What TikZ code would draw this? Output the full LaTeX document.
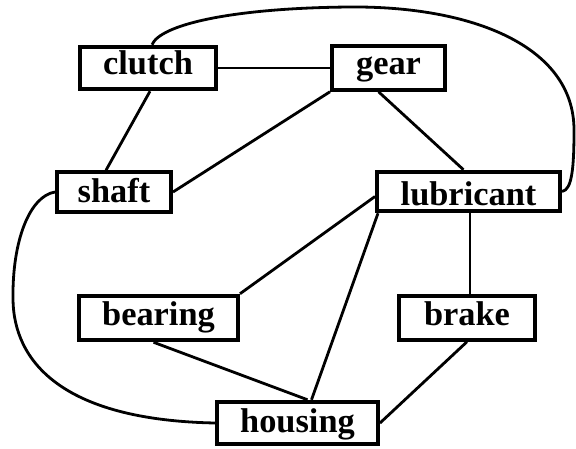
\documentclass[tikz,border=0pt]{standalone}
\usepackage{fontspec}
\setmainfont{Liberation Serif}
\begin{document}
\begin{tikzpicture}[x=1bp,y=-1bp,
  part/.style={draw,line width=4bp,inner sep=0pt,
    text height=20bp,text depth=6bp,
    font=\fontsize{34.5}{40}\selectfont\bfseries},
  link/.style={line width=2.8bp}]
\useasboundingbox (0,0) rectangle (576,449);

% parts of the mechanism
\node[part,minimum width=136bp,minimum height=42.5bp] (clutch)    at (148,68)    {clutch};
\node[part,minimum width=113bp,minimum height=43.5bp] (gear)      at (388.5,68)  {gear};
\node[part,minimum width=114bp,minimum height=39.5bp,
      text height=24bp,text depth=2bp] (shaft)     at (114,192)   {shaft};
\node[part,minimum width=183bp,minimum height=39.5bp,
      text height=30bp,text depth=2bp] (lubricant) at (468.5,191.5) {lubricant};
\node[part,minimum width=159bp,minimum height=44.5bp] (bearing)   at (158.5,318) {bearing};
\node[part,minimum width=136bp,minimum height=43.5bp] (brake)     at (467,318)   {brake};
\node[part,minimum width=161bp,minimum height=42.5bp,
      text height=22bp,text depth=4bp] (housing)   at (297.5,423) {housing};

% straight relations
\draw[link] (clutch.east) -- (gear.west);
\draw[link] ([xshift=2bp]clutch.south) -- ([xshift=-8bp]shaft.north);
\draw[link] (gear.south west) -- (shaft.east);
\draw[link] ([xshift=-10bp]gear.south) -- ([xshift=-5bp]lubricant.north);
\draw[link] ([yshift=-5bp]lubricant.west) -- (bearing.north east);
\draw[link] ([xshift=3bp]lubricant.south west) -- ([xshift=14bp]housing.north);
\draw[link] ([xshift=1.5bp]lubricant.south) -- ([xshift=1.5bp]lubricant.south |- brake.north);
\draw[link] ([xshift=-5bp]bearing.south) -- ([xshift=10bp]housing.north);
\draw[link] (brake.south) -- (housing.east);

% curved relations
\draw[link] ([xshift=4bp]clutch.north)
  .. controls (160,25) and (230,8) .. (350,7)
  .. controls (470,6) and (574,45) .. (574,130)
  .. controls (574,168) and (572,190) .. (lubricant.east);
\draw[link] (shaft.west)
  .. controls (30,196) and (12,240) .. (13,300)
  .. controls (14,360) and (60,420) .. (housing.west);
\end{tikzpicture}
\end{document}
